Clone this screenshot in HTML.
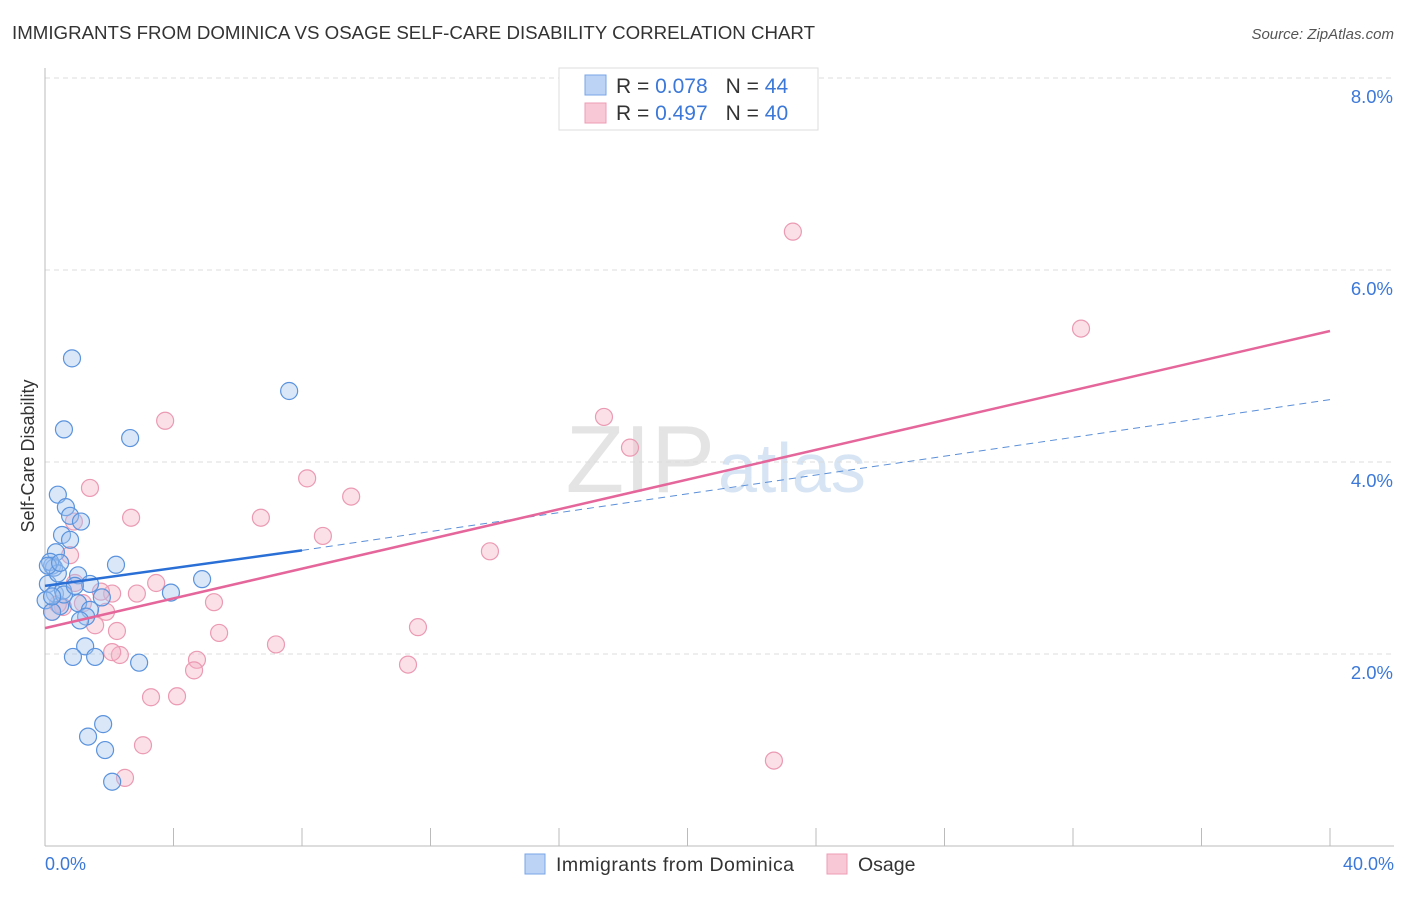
<!DOCTYPE html>
<html><head><meta charset="utf-8"><style>
body{margin:0;background:#fff;font-family:"Liberation Sans",sans-serif;}
svg text{font-family:"Liberation Sans",sans-serif;}
</style></head><body>
<svg id="chart" width="1406" height="892">
<text x="12" y="39" font-size="18.7" fill="#333" textLength="803">IMMIGRANTS FROM DOMINICA VS OSAGE SELF-CARE DISABILITY CORRELATION CHART</text>
<text x="1394" y="39" font-size="15" fill="#555" font-style="italic" text-anchor="end">Source: ZipAtlas.com</text>
<text x="715" y="492" font-size="96" fill="#e4e4e4" text-anchor="end" font-family="Liberation Serif">ZIP</text>
<text x="718" y="492" font-size="70" fill="#d6e4f4">atlas</text>
<g id="grid"></g><g id="axes"></g><g id="pts"></g><g id="lines"></g>
<text transform="translate(34,456) rotate(-90)" font-size="18" fill="#333" text-anchor="middle">Self-Care Disability</text>
<text x="45" y="870" font-size="18" fill="#3b78d8">0.0%</text>
<text x="1394" y="870" font-size="18" fill="#3b78d8" text-anchor="end">40.0%</text>
<g>
<rect x="559" y="68" width="259" height="62" fill="#fff" stroke="#ddd"/>
<rect x="585" y="75" width="21" height="20" fill="#bcd3f5" stroke="#7aa5e6"/>
<rect x="585" y="103" width="21" height="20" fill="#f9c8d6" stroke="#ee9bb4"/>
<text x="616" y="93" font-size="21" fill="#333">R = <tspan fill="#3b78d8">0.078</tspan><tspan dx="18">N = </tspan><tspan fill="#3b78d8">44</tspan></text>
<text x="616" y="120" font-size="21" fill="#333">R = <tspan fill="#3b78d8">0.497</tspan><tspan dx="18">N = </tspan><tspan fill="#3b78d8">40</tspan></text>
</g>
<g>
<rect x="525" y="854" width="20" height="20" fill="#bcd3f5" stroke="#7aa5e6"/>
<text x="556" y="871" font-size="19.5" fill="#333" textLength="238">Immigrants from Dominica</text>
<rect x="827" y="854" width="20" height="20" fill="#f9c8d6" stroke="#ee9bb4"/>
<text x="858" y="871" font-size="19.5" fill="#333">Osage</text>
</g>
</svg>
<script>
const yTicks=[2,4,6,8];
const yTickLabels=["2.0%","4.0%","6.0%","8.0%"];
const blueX=[0.84,0.59,2.65,7.60,0.40,0.65,0.78,1.12,0.53,0.78,0.34,0.22,0.28,2.21,1.03,1.40,1.77,1.03,1.40,1.28,1.09,0.47,1.25,0.87,1.56,2.93,1.81,1.34,1.87,2.09,4.89,3.92,0.09,0.31,0.02,0.16,0.56,0.22,0.40,0.09,0.59,0.22,0.47,0.93];
const blueY=[5.09,4.35,4.26,4.75,3.67,3.54,3.45,3.39,3.25,3.20,3.07,2.93,2.91,2.94,2.83,2.74,2.60,2.54,2.47,2.40,2.36,2.51,2.09,1.98,1.98,1.92,1.28,1.15,1.01,0.68,2.79,2.65,2.74,2.64,2.57,2.97,2.67,2.45,2.85,2.93,2.63,2.61,2.96,2.72];
const pinkX=[1.40,2.68,0.90,0.78,0.93,2.09,3.46,2.86,1.74,1.18,0.56,0.22,1.56,1.90,2.24,3.74,8.16,9.53,6.72,8.65,5.26,5.42,7.19,4.73,4.64,3.30,4.11,3.05,2.49,11.30,11.61,13.85,17.40,18.21,23.28,32.25,22.69,2.33,2.09,0.40];
const pinkY=[3.74,3.43,3.39,3.04,2.75,2.64,2.75,2.64,2.66,2.54,2.50,2.45,2.31,2.45,2.25,4.44,3.84,3.65,3.43,3.24,2.55,2.23,2.11,1.95,1.84,1.56,1.57,1.06,0.72,1.90,2.29,3.08,4.48,4.16,6.41,5.40,0.90,2.00,2.03,2.53];
const blueFit=[2.72,3.09,4.66]; // at x=0, 8, 40
const pinkFit=[2.28,5.375]; // at x=0, 40
const NS="http://www.w3.org/2000/svg";
const X=v=>45+v/40*1285, Y=v=>847-v*96;
function mk(p,t,a){const e=document.createElementNS(NS,t);for(const k in a)e.setAttribute(k,a[k]);p.appendChild(e);return e;}
const grid=document.getElementById('grid'),axes=document.getElementById('axes'),pts=document.getElementById('pts'),lines=document.getElementById('lines');
yTicks.forEach((t,i)=>{
 const l=mk(grid,'line',{x1:45,x2:1394,y1:Y(t)-1,y2:Y(t)-1,stroke:'#ddd','stroke-dasharray':'5,4'});
 
 
 const tx=mk(grid,'text',{x:1393,y:Y(t)+24,'font-size':18.5,fill:'#3b78d8','text-anchor':'end'});
 tx.textContent=yTickLabels[i];
 
 
});
const ya=mk(axes,'line',{x1:45,x2:45,y1:68,y2:846,stroke:'#bbb'});


const xa=mk(axes,'line',{x1:45,x2:1394,y1:846,y2:846,stroke:'#bbb'});


for(let i=1;i<=10;i++){const t=mk(axes,'line',{x1:X(i*4),x2:X(i*4),y1:828,y2:846,stroke:'#bbb'});
 
 }
pinkX.forEach((x,i)=>{const c=mk(pts,'circle',{cx:X(x),cy:Y(pinkY[i]),r:8.5,fill:'rgba(246,178,198,0.4)',stroke:'#eb9ab3','stroke-width':1.2});
 
 });
blueX.forEach((x,i)=>{const c=mk(pts,'circle',{cx:X(x),cy:Y(blueY[i]),r:8.5,fill:'rgba(160,196,240,0.4)',stroke:'#5b93dd','stroke-width':1.2});
 
 });
const bs=mk(lines,'line',{x1:X(0),y1:Y(blueFit[0]),x2:X(8),y2:Y(blueFit[1]),stroke:'#2a6fd6','stroke-width':2.5});


const bd=mk(lines,'line',{x1:X(8),y1:Y(blueFit[1]),x2:X(40),y2:Y(blueFit[2]),stroke:'#5b8fd8','stroke-width':1,'stroke-dasharray':'7,5'});


const pl=mk(lines,'line',{x1:X(0),y1:Y(pinkFit[0]),x2:X(40),y2:Y(pinkFit[1]),stroke:'#e5669a','stroke-width':2.5});


</script>
</body></html>
